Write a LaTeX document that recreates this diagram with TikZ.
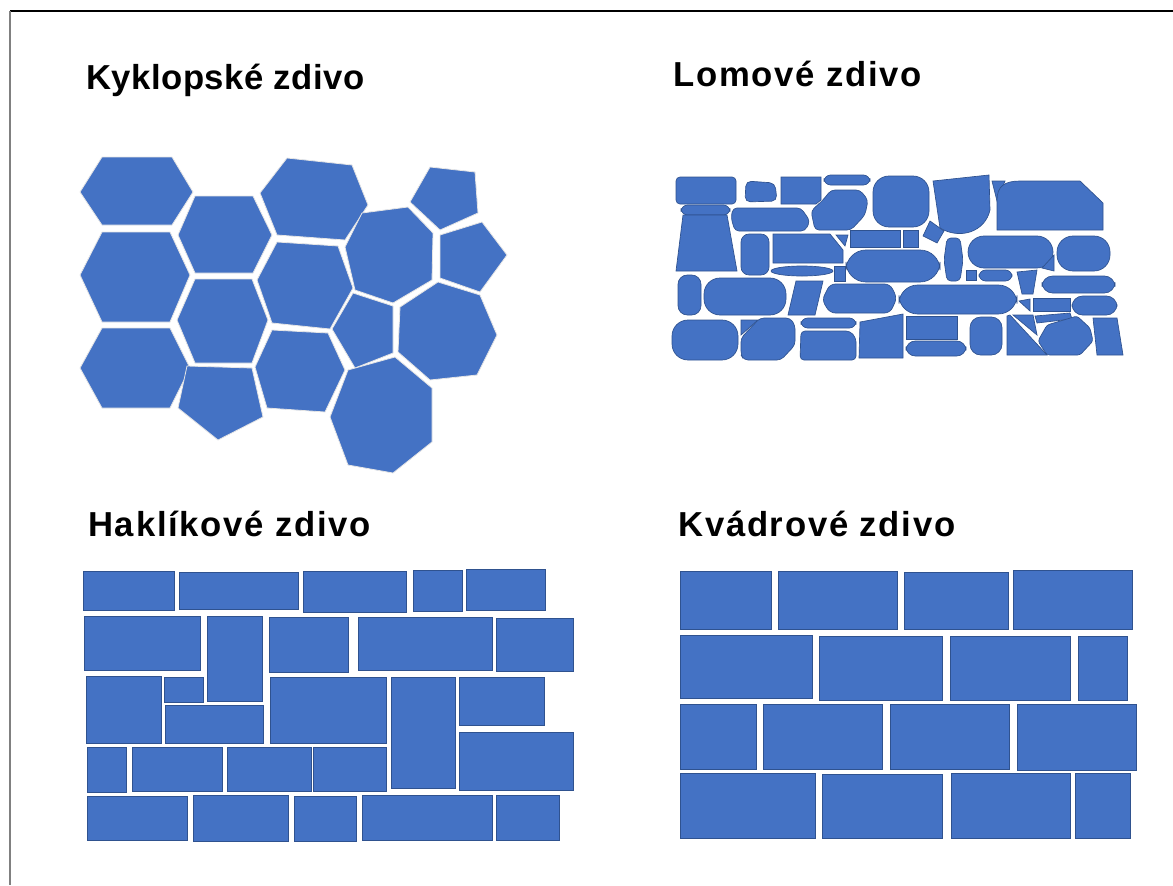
\documentclass[tikz,border=0pt]{standalone}
\usepackage{fontspec}
\setmainfont{Liberation Sans}
\newfontfamily\titlefont[LetterSpace=5]{Liberation Sans}
\newfontfamily\tighttitlefont[LetterSpace=1.5]{Liberation Sans}
\usepackage{tikz}
\usetikzlibrary{positioning}

\definecolor{wallblue}{HTML}{4472C4}
\definecolor{edgeblue}{HTML}{2F528F}

\begin{document}
\begin{tikzpicture}[x=0.75pt,y=-0.75pt]
  \tikzstyle{title}=[anchor=base west,inner sep=0pt,font=\titlefont\bfseries\fontsize{26}{30}\selectfont]
  \tikzstyle{kyklop}=[fill=wallblue,draw=white!80!gray,line width=0.6pt]
  \tikzstyle{lom}=[fill=wallblue,draw=edgeblue,line width=0.5pt]
  \tikzstyle{kvadr}=[fill=wallblue,draw=edgeblue,line width=0.7pt]

  \useasboundingbox (0,0) rectangle (1173,885);
  \draw[black,line width=1.2pt] (10,11) -- (1173,11);
  \draw[gray,line width=0.8pt] (10,11) -- (10,885);

  % titles
  \node[title,font=\tighttitlefont\bfseries\fontsize{26}{30}\selectfont] (t1) at (86,89) {Kyklopské zdivo};
  \node[title] (t2) at (673,86) {Lomové zdivo};
  \node[title] (t3) at (88,536) {Haklíkové zdivo};
  \node[title] (t4) at (678,536) {Kvádrové zdivo};

  % kyklopske zdivo
  \draw[kyklop] (80,192) -- (102,157) -- (172,157) -- (193,192) -- (172,225) -- (102,225) -- cycle;
  \draw[kyklop] (80,275) -- (102,232) -- (170,232) -- (190,275) -- (170,322) -- (102,322) -- cycle;
  \draw[kyklop] (80,368) -- (102,328) -- (170,328) -- (190,368) -- (170,408) -- (102,408) -- cycle;
  \draw[kyklop] (178,235) -- (195,196) -- (253,196) -- (272,235) -- (253,273) -- (195,273) -- cycle;
  \draw[kyklop] (177,320) -- (195,279) -- (252,279) -- (268,320) -- (252,363) -- (195,363) -- cycle;
  \draw[kyklop] (187,366) -- (252,368) -- (263,417) -- (218,440) -- (178,408) -- cycle;
  \draw[kyklop] (260,193) -- (287,158) -- (352,165) -- (368,205) -- (345,240) -- (277,235) -- cycle;
  \draw[kyklop] (257,280) -- (277,242) -- (338,246) -- (353,288) -- (330,329) -- (272,323) -- cycle;
  \draw[kyklop] (255,367) -- (272,330) -- (328,333) -- (345,370) -- (325,412) -- (267,408) -- cycle;
  \draw[kyklop] (345,247) -- (362,213) -- (408,207) -- (433,233) -- (432,280) -- (393,303) -- (355,290) -- cycle;
  \draw[kyklop] (410,202) -- (430,167) -- (475,172) -- (478,213) -- (440,230) -- cycle;
  \draw[kyklop] (440,235) -- (482,222) -- (507,255) -- (480,292) -- (440,278) -- cycle;
  \draw[kyklop] (332,329) -- (353,293) -- (393,306) -- (393,353) -- (355,368) -- cycle;
  \draw[kyklop] (400,307) -- (438,282) -- (480,295) -- (497,335) -- (477,375) -- (430,380) -- (398,352) -- cycle;
  \draw[kyklop] (330,417) -- (348,370) -- (395,357) -- (432,388) -- (432,442) -- (393,473) -- (348,465) -- cycle;

  % lomove zdivo
  \draw[lom,rounded corners=3] (676,177) rectangle (736,204);
  \draw[lom,rounded corners=4] (746,181) -- (775,183) -- (777,201) -- (745,202) -- cycle;
  \draw[lom] (781,177) -- (821,177) -- (821,200) -- (816,204) -- (781,204) -- cycle;
  \draw[lom,rounded corners=5] (824,175) rectangle (870,185);
  \draw[lom,rounded corners=3] (831,190) -- (860,190) -- (868,200) -- (865,215) -- (851,230) -- (815,230) -- (811,211) -- (823,200) -- cycle;
  \draw[lom,rounded corners=5] (681,205) rectangle (730,215);
  \draw[lom] (683,215) -- (727,215) -- (737,271) -- (676,271) -- cycle;
  \draw[lom,rounded corners=3] (733,208) -- (801,208) -- (810,221) -- (805,231) -- (735,231) -- (731,218) -- cycle;
  \draw[lom,rounded corners=6] (741,234) rectangle (769,275);
  \draw[lom] (773,234) -- (830,234) -- (843,250) -- (843,263) -- (773,263) -- cycle;
  \draw[lom] (836,235) -- (848,235) -- (845,246) -- cycle;
  \draw[lom] (802,271) ellipse [x radius=31,y radius=5];
  \draw[lom] (834,266) rectangle (845,281);
  \draw[lom,rounded corners=7] (678,275) rectangle (701,315);
  \draw[lom,rounded corners=12] (704,278) rectangle (786,315);
  \draw[lom] (796,281) -- (823,281) -- (815,315) -- (788,315) -- cycle;
  \draw[lom,rounded corners=4] (830,284) -- (890,284) -- (897,298) -- (890,313) -- (830,313) -- (822,300) -- cycle;
  \draw[lom,rounded corners=12] (672,320) rectangle (738,360);
  \draw[lom] (741,320) -- (758,320) -- (741,335) -- cycle;
  \draw[lom,rounded corners=3] (760,318) -- (790,318) -- (795,325) -- (795,345) -- (781,360) -- (744,360) -- (741,355) -- (741,338) -- cycle;
  \draw[lom,rounded corners=5] (801,318) rectangle (856,328);
  \draw[lom,rounded corners=3] (801,331) -- (850,331) -- (856,338) -- (856,360) -- (800,360) -- cycle;
  \draw[lom] (860,322) -- (903,314) -- (903,358) -- (859,358) -- cycle;
  \draw[lom,rounded corners=12] (873,176) rectangle (929,227);
  \draw[lom] (933,181) -- (989,175) -- (990,210) .. controls (985,232) and (960,240) .. (940,228) -- cycle;
  \draw[lom] (992,181) -- (1005,181) -- (997,201) -- cycle;
  \draw[lom] (997,230) -- (997,200) .. controls (997,186) and (1005,181) .. (1020,181) -- (1080,181) -- (1103,203) -- (1103,230) -- cycle;
  \draw[lom] (850,230) rectangle (900,247);
  \draw[lom] (903,230) rectangle (918,247);
  \draw[lom] (930,221) -- (944,231) -- (937,243) -- (923,236) -- cycle;
  \draw[lom,rounded corners=15] (846,250) rectangle (940,282);
  \draw[lom,rounded corners=3] (947,238) -- (960,238) -- (963,260) -- (960,281) -- (947,281) -- (944,260) -- cycle;
  \draw[lom,rounded corners=12] (968,236) rectangle (1053,268);
  \draw[lom,rounded corners=12] (1057,236) rectangle (1110,271);
  \draw[lom] (1042,268) -- (1054,255) -- (1054,271) -- cycle;
  \draw[lom] (966,270) rectangle (976,280);
  \draw[lom,rounded corners=5] (979,270) rectangle (1012,281);
  \draw[lom] (1017,272) -- (1037,270) -- (1033,294) -- (1022,294) -- cycle;
  \draw[lom,rounded corners=8] (1042,276) rectangle (1115,293);
  \draw[lom,rounded corners=14] (899,285) rectangle (1017,314);
  \draw[lom] (1033,298) rectangle (1070,311);
  \draw[lom,rounded corners=8] (1072,296) rectangle (1117,315);
  \draw[lom] (1019,301) -- (1030,299) -- (1030,311) -- cycle;
  \draw[lom] (906,316) rectangle (957,339);
  \draw[lom,rounded corners=7] (906,341) rectangle (966,356);
  \draw[lom,rounded corners=8] (970,317) rectangle (1002,355);
  \draw[lom] (1007,316) -- (1010,315) -- (1047,355) -- (1007,355) -- cycle;
  \draw[lom] (1013,315) -- (1033,315) -- (1037,335) -- cycle;
  \draw[lom] (1035,316) -- (1070,313) -- (1072,319) -- (1037,323) -- cycle;
  \draw[lom,rounded corners=2] (1047,325) -- (1077,316) -- (1090,328) -- (1093,341) -- (1080,355) -- (1047,355) -- (1038,341) -- cycle;
  \draw[lom] (1093,318) -- (1117,318) -- (1123,355) -- (1097,355) -- cycle;

  % haklikove zdivo
  \draw[kvadr] (83,571) rectangle (174,610);
  \draw[kvadr] (179,572) rectangle (298,609);
  \draw[kvadr] (303,571) rectangle (406,612);
  \draw[kvadr] (413,570) rectangle (462,611);
  \draw[kvadr] (466,569) rectangle (545,610);
  \draw[kvadr] (84,616) rectangle (200,670);
  \draw[kvadr] (207,616) rectangle (262,701);
  \draw[kvadr] (269,617) rectangle (348,672);
  \draw[kvadr] (358,617) rectangle (492,670);
  \draw[kvadr] (496,618) rectangle (573,671);
  \draw[kvadr] (86,676) rectangle (161,743);
  \draw[kvadr] (164,677) rectangle (203,702);
  \draw[kvadr] (165,705) rectangle (263,743);
  \draw[kvadr] (270,677) rectangle (386,743);
  \draw[kvadr] (391,677) rectangle (455,788);
  \draw[kvadr] (459,677) rectangle (544,725);
  \draw[kvadr] (459,732) rectangle (573,790);
  \draw[kvadr] (87,747) rectangle (126,792);
  \draw[kvadr] (132,747) rectangle (222,791);
  \draw[kvadr] (227,747) rectangle (311,791);
  \draw[kvadr] (313,747) rectangle (386,791);
  \draw[kvadr] (87,796) rectangle (187,840);
  \draw[kvadr] (193,795) rectangle (288,841);
  \draw[kvadr] (294,796) rectangle (356,841);
  \draw[kvadr] (362,795) rectangle (492,840);
  \draw[kvadr] (496,795) rectangle (559,840);

  % kvadrove zdivo
  \draw[kvadr] (680,571) rectangle (771,629);
  \draw[kvadr] (778,571) rectangle (897,629);
  \draw[kvadr] (904,572) rectangle (1008,629);
  \draw[kvadr] (1013,570) rectangle (1132,629);
  \draw[kvadr] (680,635) rectangle (812,698);
  \draw[kvadr] (819,636) rectangle (942,700);
  \draw[kvadr] (950,636) rectangle (1070,700);
  \draw[kvadr] (1078,636) rectangle (1127,700);
  \draw[kvadr] (680,704) rectangle (756,769);
  \draw[kvadr] (763,704) rectangle (882,769);
  \draw[kvadr] (890,704) rectangle (1009,769);
  \draw[kvadr] (1017,704) rectangle (1136,770);
  \draw[kvadr] (680,773) rectangle (815,838);
  \draw[kvadr] (822,774) rectangle (942,838);
  \draw[kvadr] (951,773) rectangle (1070,838);
  \draw[kvadr] (1075,773) rectangle (1130,838);
\end{tikzpicture}
\end{document}
